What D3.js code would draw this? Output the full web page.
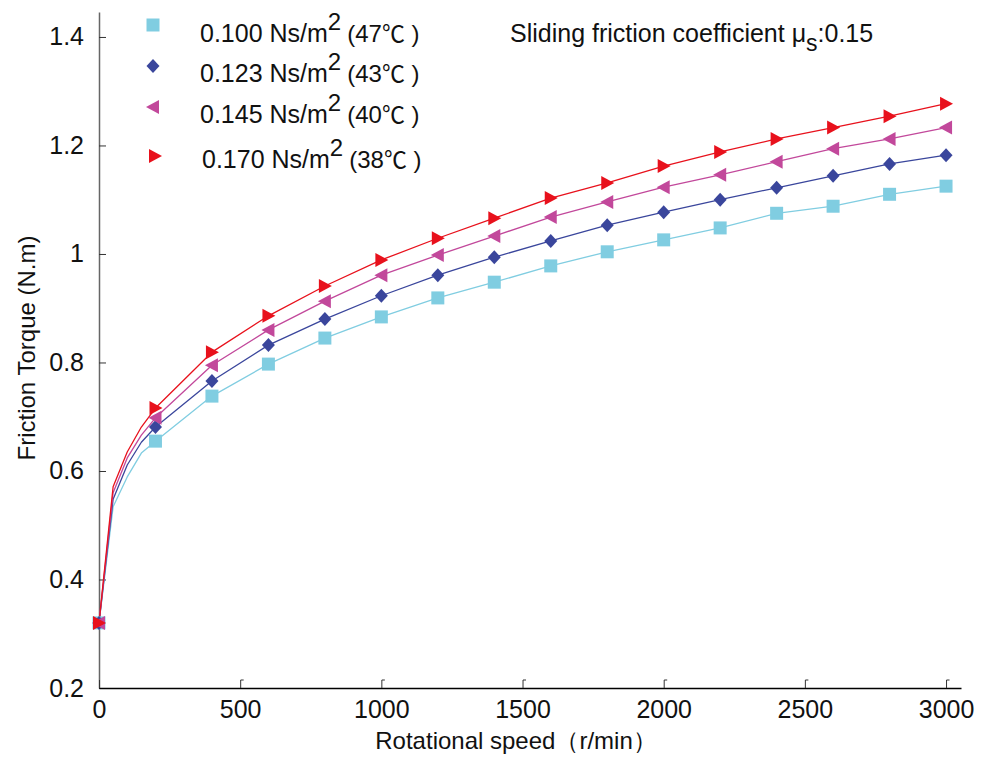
<!DOCTYPE html>
<html>
<head>
<meta charset="utf-8">
<script src="https://cdn.jsdelivr.net/npm/d3@7/dist/d3.min.js"></script>
<style>
  body { margin: 0; background: #fff; }
  svg { display: block; font-family: "Liberation Sans", Arial, sans-serif; }
</style>
</head>
<body>
<svg id="chart" width="986" height="758"></svg>
<script>
// rotational speed of the marker points (r/min)
var speeds = [0, 200, 400, 600, 800, 1000, 1200, 1400, 1600, 1800, 2000, 2200, 2400, 2600, 2800, 3000];

// friction torque (N.m) at the marker points
var torque100 = [0.32, 0.655, 0.738, 0.797, 0.845, 0.884, 0.919, 0.948, 0.978, 1.004, 1.026, 1.048, 1.075, 1.088, 1.110, 1.125];
var torque123 = [0.32, 0.681, 0.766, 0.832, 0.880, 0.923, 0.961, 0.994, 1.024, 1.053, 1.077, 1.100, 1.122, 1.144, 1.166, 1.182];
var torque145 = [0.32, 0.698, 0.795, 0.860, 0.913, 0.961, 0.998, 1.033, 1.068, 1.096, 1.123, 1.146, 1.170, 1.194, 1.212, 1.233];
var torque170 = [0.32, 0.716, 0.819, 0.886, 0.941, 0.989, 1.029, 1.066, 1.103, 1.131, 1.162, 1.188, 1.212, 1.233, 1.254, 1.277];

// extra low-speed points the curves pass through (no markers there)
var lowSpeeds = [50, 100, 150];
var low100 = [0.534, 0.589, 0.633];
var low123 = [0.548, 0.611, 0.653];
var low145 = [0.560, 0.624, 0.666];
var low170 = [0.571, 0.635, 0.681];

var seriesNames = ["0.100", "0.123", "0.145", "0.170"];
var seriesTemps = ["47", "43", "40", "38"];
var seriesColors = ["#80cde1", "#3a469c", "#c2489b", "#e8111c"];
var seriesShapes = ["square", "diamond", "left", "right"];

var xTicks = [0, 500, 1000, 1500, 2000, 2500, 3000];
var yTicks = [0.2, 0.4, 0.6, 0.8, 1, 1.2, 1.4];

var svg = d3.select("#chart");

var x = d3.scaleLinear().domain([0, 3053]).range([99, 961]);
var y = d3.scaleLinear().domain([0.2, 1.446]).range([688, 12]);

var allTorque = [torque100, torque123, torque145, torque170];
var allLow = [low100, low123, low145, low170];

var series = allTorque.map(function(vals, i) {
    var pts = speeds.map(function(s, j) { return {s: s, t: vals[j]}; });
    var linePts = pts.slice(0, 1)
        .concat(lowSpeeds.map(function(s, j) { return {s: s, t: allLow[i][j]}; }))
        .concat(pts.slice(1));
    return {name: seriesNames[i], temp: seriesTemps[i], color: seriesColors[i],
            shape: seriesShapes[i], pts: pts, linePts: linePts};
});

// axes
var yAxis = d3.axisLeft(y).tickValues(yTicks).tickSizeInner(-7).tickSizeOuter(0)
    .tickPadding(15).tickFormat(function(d) { return String(d); });
var gy = svg.append("g").attr("transform", "translate(99,0)").call(yAxis);
gy.select(".domain").attr("stroke", "#666").attr("stroke-width", 1.5);
gy.selectAll(".tick line").attr("stroke", "#333");
gy.selectAll(".tick text").attr("font-size", 25).attr("fill", "#111")
    .attr("font-family", "Liberation Sans, Arial, sans-serif");

var xAxis = d3.axisBottom(x).tickValues(xTicks).tickSizeInner(-8).tickSizeOuter(0)
    .tickPadding(12).tickFormat(function(d) { return String(d); });
var gx = svg.append("g").attr("transform", "translate(0,688)").call(xAxis);
gx.select(".domain").attr("stroke", "#000").attr("stroke-width", 1.5);
gx.selectAll(".tick line").attr("stroke", "#333");
gx.selectAll(".tick").filter(function(d) { return d > 0; })
    .append("line").attr("x1", 0).attr("x2", 3).attr("y1", -8).attr("y2", -8)
    .attr("stroke", "#333");
gx.selectAll(".tick text").attr("font-size", 25).attr("fill", "#111")
    .attr("font-family", "Liberation Sans, Arial, sans-serif");

// axis titles
svg.append("text")
    .attr("x", 516).attr("y", 749)
    .attr("text-anchor", "middle")
    .attr("font-size", 24).attr("fill", "#111")
    .text("Rotational speed（r/min）");

svg.append("text")
    .attr("transform", "translate(35,348) rotate(-90)")
    .attr("text-anchor", "middle")
    .attr("font-size", 24).attr("fill", "#111")
    .text("Friction Torque (N.m)");

// curves
var line = d3.line()
    .x(function(d) { return x(d.s); })
    .y(function(d) { return y(d.t); });

svg.append("g").selectAll("path.curve")
    .data(series)
    .enter()
    .append("path")
    .classed("curve", true)
    .attr("d", function(d) { return line(d.linePts); })
    .attr("fill", "none")
    .attr("stroke", function(d) { return d.color; })
    .attr("stroke-width", 1.3)
    .attr("stroke-linejoin", "round");

// marker shapes
function shapePath(shape) {
    if (shape == "square") return "M-6.5,-6.5H6.5V6.5H-6.5Z";
    if (shape == "diamond") return "M0,-7L6.5,0L0,7L-6.5,0Z";
    if (shape == "left") return "M-7,0L6,-7L6,7Z";
    return "M7,0L-6,-7L-6,7Z";
}

series.forEach(function(sr) {
    svg.append("g").selectAll("path.mark")
        .data(sr.pts)
        .enter()
        .append("path")
        .classed("mark", true)
        .attr("transform", function(d) { return "translate(" + x(d.s) + "," + y(d.t) + ")"; })
        .attr("d", shapePath(sr.shape))
        .attr("fill", sr.color);
});

// legend
var legendY = [25, 66, 107, 156];
var legendTextY = [42, 82, 123, 168];
var legendTextX = [200, 200, 200, 202];

var leg = svg.append("g");
series.forEach(function(sr, i) {
    leg.append("path")
        .attr("transform", "translate(" + (i == 3 ? 155 : 153) + "," + legendY[i] + ")")
        .attr("d", shapePath(sr.shape))
        .attr("fill", sr.color);
    var t = leg.append("text")
        .attr("x", legendTextX[i]).attr("y", legendTextY[i])
        .attr("font-size", 25).attr("fill", "#111");
    t.append("tspan").text(sr.name + " Ns/m");
    t.append("tspan").attr("dy", -12).attr("font-size", 24).text("2");
    t.append("tspan").attr("dy", 12).attr("dx", 6).attr("font-size", 24).text("(" + sr.temp);
    t.append("tspan").attr("font-family", "Noto Sans CJK SC").attr("font-size", 23).text("℃");
    t.append("tspan").attr("font-size", 24).text(" )");
});

// annotation
var note = svg.append("text")
    .attr("x", 510).attr("y", 42)
    .attr("font-size", 25).attr("fill", "#111");
note.append("tspan").text("Sliding friction coefficient μ");
note.append("tspan").attr("dy", 9).attr("font-size", 23).text("s");
note.append("tspan").attr("dy", -9).text(":0.15");
</script>
</body>
</html>
